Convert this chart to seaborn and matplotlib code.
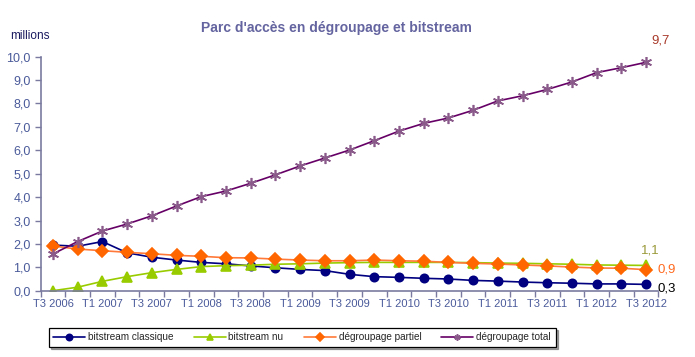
import matplotlib
matplotlib.use("Agg")
import matplotlib.pyplot as plt
import seaborn as sns
import pandas as pd
import numpy as np

quarters = ["T3 2006", "T4 2006", "T1 2007", "T2 2007", "T3 2007", "T4 2007",
            "T1 2008", "T2 2008", "T3 2008", "T4 2008", "T1 2009", "T2 2009",
            "T3 2009", "T4 2009", "T1 2010", "T2 2010", "T3 2010", "T4 2010",
            "T1 2011", "T2 2011", "T3 2011", "T4 2011", "T1 2012", "T2 2012",
            "T3 2012"]

bitstream_classique = [1.95, 1.90, 2.10, 1.62, 1.43, 1.31, 1.21, 1.15, 1.06, 0.98,
                       0.91, 0.86, 0.70, 0.60, 0.57, 0.53, 0.50, 0.44, 0.41, 0.37,
                       0.34, 0.32, 0.29, 0.29, 0.27]
bitstream_nu = [0.00, 0.15, 0.40, 0.60, 0.77, 0.91, 1.03, 1.07, 1.09, 1.13,
                1.15, 1.18, 1.20, 1.21, 1.21, 1.21, 1.21, 1.20, 1.18, 1.17,
                1.15, 1.13, 1.10, 1.09, 1.08]
degroupage_partiel = [1.91, 1.78, 1.71, 1.64, 1.58, 1.51, 1.47, 1.41, 1.40, 1.35,
                      1.31, 1.28, 1.28, 1.31, 1.28, 1.26, 1.21, 1.17, 1.14, 1.10,
                      1.06, 1.01, 0.97, 0.96, 0.90]
degroupage_total = [1.57, 2.10, 2.55, 2.85, 3.20, 3.62, 4.02, 4.26, 4.59, 4.95,
                    5.33, 5.67, 6.01, 6.41, 6.82, 7.15, 7.38, 7.71, 8.11, 8.33,
                    8.60, 8.92, 9.32, 9.53, 9.76]

series_names = ["bitstream classique", "bitstream nu", "dégroupage partiel", "dégroupage total"]
end_labels = ["0,3", "1,1", "0,9", "9,7"]

sns.set_theme(style="white")
plt.rcParams['font.family'] = ['Liberation Sans', 'DejaVu Sans']

df = pd.DataFrame({
    "idx": np.arange(len(quarters)),
    series_names[0]: bitstream_classique,
    series_names[1]: bitstream_nu,
    series_names[2]: degroupage_partiel,
    series_names[3]: degroupage_total,
})

fig = plt.figure(figsize=(6.95, 3.57), dpi=100)
ax = fig.add_axes([0.0584, 0.1857, 0.889, 0.6555])

styles = {
    series_names[0]: dict(marker="o", markersize=6, mfc="#000080", mec="#000080", lc="#000080"),
    series_names[1]: dict(marker="^", markersize=7, mfc="#99cc00", mec="#99cc00", lc="#99cc00"),
    series_names[2]: dict(marker="D", markersize=6.5, mfc="#ff6600", mec="#ff6600", lc="#ff7a3a"),
    series_names[3]: dict(marker=(6, 2, 0), markersize=8, mfc="#660066", mec="#8a5a8a", lc="#660066"),
}

for name in series_names:
    st = styles[name]
    sns.lineplot(data=df, x="idx", y=name, ax=ax, color=st["lc"], linewidth=1.2,
                 marker=st["marker"], markersize=st["markersize"],
                 markerfacecolor=st["mfc"], markeredgecolor=st["mec"],
                 markeredgewidth=1.2, label=name, legend=False)

ax.set_xlim(-0.5, len(quarters) - 0.5)
ax.set_ylim(0, 10)
ax.set_yticks(np.arange(0, 10.01, 1.0))
ax.set_yticklabels([f"{v:.1f}".replace(".", ",") for v in np.arange(0, 10.01, 1.0)])
ax.set_xticks(np.arange(0, len(quarters), 2))
ax.set_xticklabels(quarters[::2])
ax.set_xticks(np.arange(-0.5, len(quarters), 1), minor=True)
ax.set_xlabel("")
ax.set_ylabel("")

tick_col = "#4a5a9a"
spine_col = "#7a7aa0"
ax.tick_params(axis="x", which="major", length=0, pad=6, labelsize=8, labelcolor=tick_col)
ax.tick_params(axis="x", which="minor", length=4, width=1, color=spine_col, direction="out", bottom=True)
ax.tick_params(axis="y", which="major", length=4, width=1, color=spine_col, direction="out",
               left=True, labelsize=9, labelcolor=tick_col, pad=3)
for s in ["top", "right"]:
    ax.spines[s].set_visible(False)
for s in ["left", "bottom"]:
    ax.spines[s].set_color(spine_col)
    ax.spines[s].set_linewidth(1.2)
ax.grid(False)

fig.text(336 / 695, 1 - 28 / 357, "Parc d'accès en dégroupage et bitstream",
         ha="center", va="center", fontsize=10, fontweight="bold", color="#6464a0")
fig.text(10 / 695, 1 - 36 / 357, "millions", ha="left", va="center", fontsize=8.5, color="#1a1a60")

last = len(quarters) - 1
ann_cols = ["#000000", "#9a9a3a", "#ff6a20", "#a83a2a"]
ann_offsets = [(8, -3), (-4, 11), (8, 0), (4, 16)]
ann_vals = [bitstream_classique[-1], bitstream_nu[-1], degroupage_partiel[-1], degroupage_total[-1]]
for txt, col, off, v in zip(end_labels, ann_cols, ann_offsets, ann_vals):
    ax.annotate(txt, (last, v), xytext=off, textcoords="offset points",
                ha="left", va="center", fontsize=9.5, color=col, annotation_clip=False)

h, l = ax.get_legend_handles_labels()
leg = fig.legend(h, l, loc="center", bbox_to_anchor=(302 / 695, 1 - 337 / 357), ncol=4,
                 fontsize=7.2, frameon=True, fancybox=False, shadow=True, handlelength=3.2,
                 columnspacing=2.0, borderpad=0.45, handletextpad=0.3)
for lh in leg.legend_handles:
    lh.set_markersize(4.5)
leg.get_frame().set_edgecolor("#000000")
leg.get_frame().set_linewidth(0.9)

fig.savefig("out.png", dpi=100)
